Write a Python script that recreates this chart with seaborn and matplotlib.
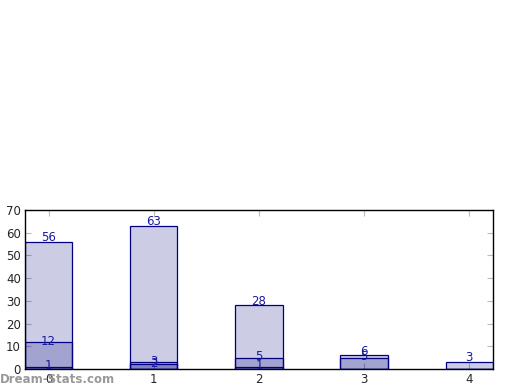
import matplotlib
matplotlib.use('Agg')
import matplotlib.pyplot as plt
import seaborn as sns
import pandas as pd

# data (bars are drawn on top of each other, not stacked)
categories = [0, 1, 2, 3, 4]
layer_a = [56, 63, 28, 6, 3]
layer_b = [12, 3, 5, 5, 0]
layer_c = [1, 2, 1, 0, 0]

sns.set_style('white')
plt.rcParams['font.family'] = ['DejaVu Sans']

fig = plt.figure(figsize=(5.2, 3.9), dpi=100)
ax = fig.add_axes([0.048, 0.054, 0.9, 0.4075])

for vals, lift in [(layer_a, 3), (layer_b, 0.5), (layer_c, 0.5)]:
    df = pd.DataFrame({'x': categories, 'y': vals})
    sns.barplot(data=df, x='x', y='y', ax=ax, width=0.45,
                color=(0, 0, 0.5, 0.2), edgecolor='navy', linewidth=0.9,
                saturation=1, errorbar=None)
    for i, v in enumerate(vals):
        if v > 0:
            ax.annotate(str(v), (i, v), xytext=(0, lift), textcoords='offset points',
                        ha='center', va='center', color='#1a1aa0', fontsize=8.5)

# bars need their own alpha since seaborn drops the alpha from color
for p in ax.patches:
    p.set_facecolor((0, 0, 0.5, 0.2))
    p.set_edgecolor('navy')

ax.set_xlim(-0.225, 4.225)
ax.set_ylim(0, 70)
ax.set_yticks(range(0, 71, 10))
ax.set_xlabel('')
ax.set_ylabel('')
ax.tick_params(direction='in', length=4, color='#bbbbbb', labelsize=8.5,
               left=True, bottom=True, right=True, top=True, pad=3)
for s in ax.spines.values():
    s.set_color('black')
    s.set_linewidth(1)

fig.text(0.0, 0.01, 'Dream-Stats.com', color='#999999', fontsize=8.5,
         fontweight='bold', ha='left', va='bottom')

fig.savefig('out.png', dpi=100)
